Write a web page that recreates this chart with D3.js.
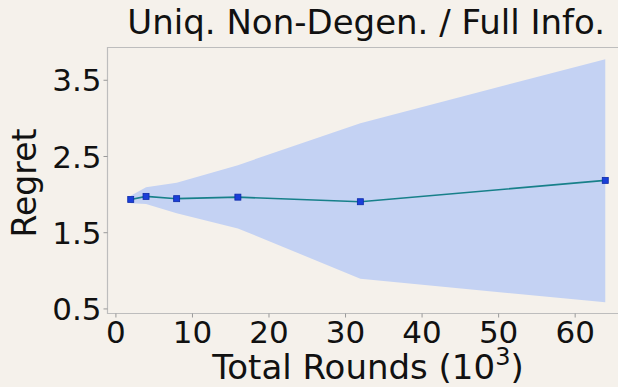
<!DOCTYPE html>
<html>
<head>
<meta charset="utf-8">
<script src="https://cdn.jsdelivr.net/npm/d3@7"></script>
<style>
  html, body { margin: 0; padding: 0; background: #f5f1eb; }
  svg { display: block; font-family: "DejaVu Sans", sans-serif; }
</style>
</head>
<body>
<div id="chart"></div>
<script>
// rounds in thousands
const rounds = [2, 4, 8, 16, 32, 64];
const regretMean = [1.93, 1.97, 1.94, 1.96, 1.90, 2.18];
const regretUpper = [1.98, 2.09, 2.15, 2.38, 2.93, 3.77];
const regretLower = [1.88, 1.87, 1.75, 1.55, 0.89, 0.58];
const yTicks = [0.5, 1.5, 2.5, 3.5];
const xTicks = [0, 10, 20, 30, 40, 50, 60];

const W = 618, H = 387;
const margin = { top: 47, right: -11, bottom: 74, left: 107 };

const svg = d3.select('#chart').append('svg')
  .attr('width', W)
  .attr('height', H);

svg.append('rect').attr('width', W).attr('height', H).attr('fill', '#f5f1eb');

const x = d3.scaleLinear()
  .domain([-1.1, 67.1])
  .range([margin.left, W - margin.right]);

const y = d3.scaleLinear()
  .domain([0.44, 3.93])
  .range([H - margin.bottom, margin.top]);

const pts = rounds.map((r, i) => ({ r, m: regretMean[i], lo: regretLower[i], hi: regretUpper[i] }));

// shaded band
const area = d3.area()
  .x(d => x(d.r))
  .y0(d => y(d.lo))
  .y1(d => y(d.hi));

svg.append('path')
  .datum(pts)
  .attr('d', area)
  .attr('fill', '#c4d2f3');

// mean line
const line = d3.line()
  .x(d => x(d.r))
  .y(d => y(d.m));

svg.append('path')
  .datum(pts)
  .attr('d', line)
  .attr('fill', 'none')
  .attr('stroke', '#17808a')
  .attr('stroke-width', 1.6);

svg.selectAll('rect.mark')
  .data(pts)
  .enter().append('rect')
  .attr('class', 'mark')
  .attr('x', d => x(d.r) - 3)
  .attr('y', d => y(d.m) - 3)
  .attr('width', 6)
  .attr('height', 6)
  .attr('fill', '#1a3fd9')
  .attr('stroke', '#0d2aa8')
  .attr('stroke-width', 0.8);

// frame
const plotLeft = margin.left, plotTop = margin.top, plotBottom = H - margin.bottom;
svg.append('path')
  .attr('d', `M${W},${plotTop + 0.5}H${plotLeft + 0.5}V${plotBottom + 0.5}H${W}`)
  .attr('fill', 'none')
  .attr('stroke', '#bdbdbd')
  .attr('stroke-width', 1.2);

// axes
const xAxis = svg.append('g')
  .attr('transform', `translate(0,${plotBottom + 0.5})`)
  .call(d3.axisBottom(x).tickValues(xTicks).tickSize(4).tickPadding(3).tickFormat(d3.format('d')));

const yAxis = svg.append('g')
  .attr('transform', `translate(${plotLeft + 0.5},0)`)
  .call(d3.axisLeft(y).tickValues(yTicks).tickSize(4).tickPadding(2).tickFormat(d3.format('.1f')));

[xAxis, yAxis].forEach(g => {
  g.select('.domain').remove();
  g.selectAll('line').attr('stroke', '#999');
  g.selectAll('text')
    .attr('fill', '#111')
    .style('font-size', '31px')
    .style('font-family', '"DejaVu Sans", sans-serif');
});
yAxis.selectAll('text').attr('dy', '0.36em');

// title
svg.append('text')
  .attr('x', 605)
  .attr('y', 34)
  .attr('text-anchor', 'end')
  .style('font-size', '34px')
  .attr('fill', '#111')
  .text('Uniq. Non-Degen. / Full Info.');

// y label
svg.append('text')
  .attr('transform', `translate(36,183) rotate(-90)`)
  .attr('text-anchor', 'middle')
  .style('font-size', '33px')
  .attr('fill', '#111')
  .text('Regret');

// x label
const xl = svg.append('text')
  .attr('x', 368)
  .attr('y', 379)
  .attr('text-anchor', 'middle')
  .style('font-size', '34px')
  .attr('fill', '#111');
xl.append('tspan').text('Total Rounds (10');
xl.append('tspan').attr('baseline-shift', 'super').style('font-size', '24px').text('3');
xl.append('tspan').text(')');
</script>
</body>
</html>
